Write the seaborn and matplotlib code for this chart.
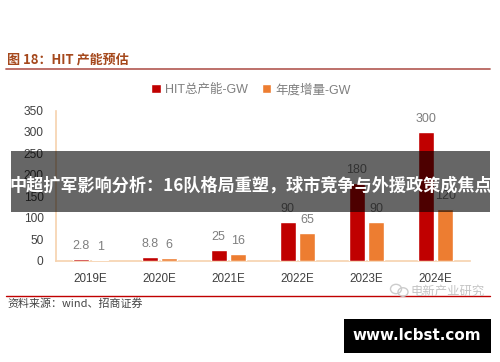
import pandas as pd
import seaborn as sns
import matplotlib.pyplot as plt
from matplotlib.patches import Ellipse, Rectangle
from matplotlib.lines import Line2D

years = ['2019E', '2020E', '2021E', '2022E', '2023E', '2024E']
total_gw = [2.8, 8.8, 25, 90, 180, 300]
added_gw = [1, 6, 16, 65, 90, 120]
series_names = ['HIT总产能-GW', '年度增量-GW']
y_ticks = [0, 50, 100, 150, 200, 250, 300, 350]

W, H = 500, 362
font_list = ['Liberation Sans', 'Noto Sans CJK SC', 'DejaVu Sans']
cjk_list = ['Noto Sans CJK SC', 'DejaVu Sans']

sns.set_theme(style='white')
plt.rcParams['font.family'] = font_list

df = pd.DataFrame({
    'year': years * 2,
    'value': total_gw + added_gw,
    'series': [series_names[0]] * 6 + [series_names[1]] * 6,
})

fig = plt.figure(figsize=(W / 100, H / 100), dpi=100)
ax = fig.add_axes([56 / W, 1 - 260.5 / H, 414 / W, 150 / H])

sns.barplot(data=df, x='year', y='value', hue='series', ax=ax,
            palette=['#c00000', '#ed7d31'], width=0.57, gap=0.2, saturation=1)

for c in ax.containers:
    ax.bar_label(c, fmt='%g', padding=5, fontsize=9, color='#7f7f7f')

ax.set_ylim(0, 350)
ax.set_yticks(y_ticks)
ax.set_xlabel('')
ax.set_ylabel('')
ax.tick_params(axis='y', length=0, labelsize=8.6, labelcolor='#404040', pad=9)
ax.tick_params(axis='x', length=0, labelsize=8.4, labelcolor='#404040', pad=9)
sns.despine(ax=ax)
for side in ['left', 'bottom']:
    ax.spines[side].set_color('#f6d2ae')
    ax.spines[side].set_linewidth(1.2)
    ax.spines[side].set_zorder(0.5)

ax.legend(loc='center', bbox_to_anchor=(251 / W, 1 - 90 / H), bbox_transform=fig.transFigure,
          ncol=2, frameon=False, fontsize=9, labelcolor='#7f7f7f',
          handlelength=0.75, handleheight=0.75, handletextpad=0.35, columnspacing=1.1)

# 标题 / 来源
fig.text(7 / W, 1 - 60 / H, '图 18：HIT 产能预估', fontsize=9.4, fontweight='bold',
         color='#a5481c', va='center', family=cjk_list)
fig.add_artist(Line2D([6 / W, 490 / W], [1 - 68.7 / H] * 2, color='#b8645e', lw=1.3))
fig.add_artist(Line2D([6 / W, 490 / W], [1 - 295.7 / H] * 2, color='#c00000', lw=1))
fig.text(7 / W, 1 - 304 / H, '资料来源：wind、招商证券', fontsize=7.9, color='#444444',
         va='center', family=cjk_list)

# 水印
fig.text(410 / W, 1 - 291 / H, '电新产业研究', fontsize=8.9, color='#c4c4c4', va='center',
         family=cjk_list, zorder=6)
for cx, cy, r in [(396, 289, 5.5), (403, 292, 5)]:
    fig.add_artist(Ellipse((cx / W, 1 - cy / H), 2 * r / W, 1.7 * r / H, fill=False,
                           ec='#cccccc', lw=1, zorder=6))

# 遮罩横幅
fig.add_artist(Rectangle((11 / W, 1 - 212 / H), 479 / W, 61 / H, fc='black', alpha=0.6,
                         ec='none', zorder=10))
fig.text(250.5 / W, 1 - 186 / H, '中超扩军影响分析：16队格局重塑，球市竞争与外援政策成焦点',
         fontsize=12.3, fontweight='bold', color='white', ha='center', va='center',
         family=cjk_list, zorder=11)

# 网址框
fig.add_artist(Rectangle((344 / W, 1 - 353 / H), 147 / W, 34 / H, fc='black', ec='none', zorder=10))
fig.text(417 / W, 1 - 336 / H, 'www.lcbst.com', fontsize=10.9, fontweight='bold', color='white',
         ha='center', va='center', family=['DejaVu Sans'], zorder=11)

fig.savefig('out.png', dpi=100)
